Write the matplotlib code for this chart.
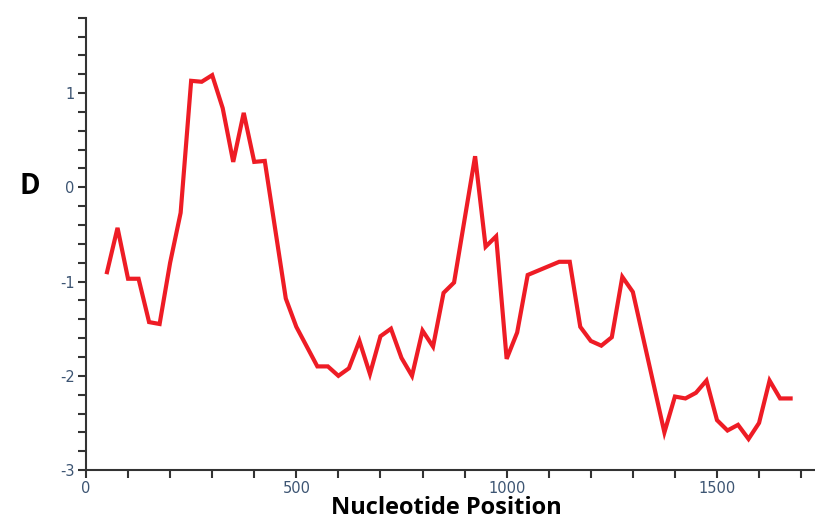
import matplotlib.pyplot as plt
from matplotlib.ticker import MultipleLocator

plt.rcParams["axes.unicode_minus"] = False

# posiciones (nt) y valores de D
posicion = [50, 75, 100, 125, 150, 175, 200, 225, 250, 275, 300, 325, 350, 375,
            400, 425, 475, 500, 525, 550, 575, 600, 625, 650, 675, 700, 725, 750,
            775, 800, 825, 850, 875, 925, 950, 975, 1000, 1025, 1050, 1125, 1150,
            1175, 1200, 1225, 1250, 1275, 1300, 1375, 1400, 1425, 1450, 1475, 1500,
            1525, 1550, 1575, 1600, 1625, 1650, 1675]
valor_d = [-0.90, -0.43, -0.97, -0.97, -1.43, -1.45, -0.80, -0.27, 1.13, 1.12,
           1.19, 0.84, 0.27, 0.79, 0.27, 0.28, -1.18, -1.48, -1.69, -1.90, -1.90,
           -2.00, -1.92, -1.63, -1.98, -1.58, -1.50, -1.81, -2.00, -1.52, -1.69,
           -1.12, -1.01, 0.33, -0.63, -0.52, -1.82, -1.54, -0.93, -0.79, -0.79,
           -1.48, -1.63, -1.68, -1.59, -0.95, -1.11, -2.60, -2.22, -2.24, -2.18,
           -2.05, -2.47, -2.58, -2.52, -2.67, -2.50, -2.05, -2.24, -2.24]

fig = plt.figure(figsize=(8.15, 5.2), dpi=100)
ax = fig.add_axes([0.1055, 0.096, 0.8945, 0.87])

ax.plot(posicion, valor_d, color="#ee1c25", linewidth=3.0, solid_joinstyle="miter")

ax.set_xlim(0, 1733)
ax.set_ylim(-3, 1.8)

ax.xaxis.set_major_locator(MultipleLocator(500))
ax.xaxis.set_minor_locator(MultipleLocator(100))
ax.yaxis.set_major_locator(MultipleLocator(1))
ax.yaxis.set_minor_locator(MultipleLocator(0.2))

for s in ["top", "right"]:
    ax.spines[s].set_visible(False)
for s in ["left", "bottom"]:
    ax.spines[s].set_color("#333333")
    ax.spines[s].set_linewidth(1.5)

ax.tick_params(which="both", direction="out", length=6, width=1.5, color="#333333")
ax.tick_params(which="major", labelsize=10.5, labelcolor="#3d5573", pad=2)

ax.set_xlabel("Nucleotide Position", fontsize=17, fontweight="bold",
              family=["Open Sans", "DejaVu Sans"], va="center")
ax.xaxis.set_label_coords(0.494, -0.084)
ax.set_ylabel("D", fontsize=20, fontweight="bold", rotation=0,
              family=["Open Sans", "DejaVu Sans"], va="center", ha="center")
ax.yaxis.set_label_coords(-0.077, 0.626)

fig.savefig("out.png", dpi=100)
